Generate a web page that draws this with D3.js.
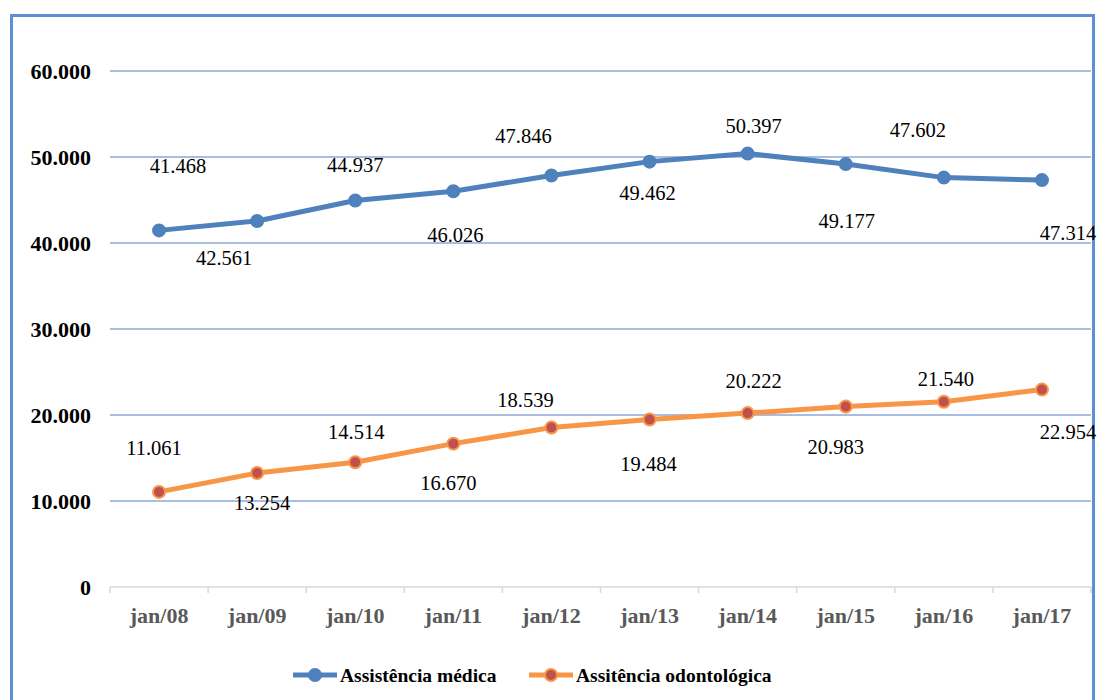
<!DOCTYPE html>
<html><head><meta charset="utf-8">
<script src="https://cdn.jsdelivr.net/npm/d3@7"></script>
<style>body{margin:0;background:#fff}svg{display:block}
text{font-family:"Liberation Serif","Times New Roman","DejaVu Serif",serif}</style>
</head><body>
<svg id="c" width="1106" height="700"></svg>
<script>
const categories = ["jan/08","jan/09","jan/10","jan/11","jan/12","jan/13","jan/14","jan/15","jan/16","jan/17"];
const medica = [41468,42561,44937,46026,47846,49462,50397,49177,47602,47314];
const odonto = [11061,13254,14514,16670,18539,19484,20222,20983,21540,22954];
const yTicks = [0,10000,20000,30000,40000,50000,60000];
const seriesNames = ["Assistência médica","Assitência odontológica"];
// label offsets (dx, dy) relative to each point, as placed in the original
const medicaLabelOffsets = [[19,-65],[-33,37],[0,-36],[2,44],[-28,-40],[-2,31],[6,-28],[1,57],[-26,-48],[26,53]];
const odontoLabelOffsets = [[-5,-44],[5,30],[1,-30],[-5,39],[-26,-28],[-1,44],[6,-32],[-10,40],[2,-23],[26,42]];

const FONT = '"Liberation Serif","Times New Roman","DejaVu Serif",serif';
const svg = d3.select("#c");
const fmt = v => v === 0 ? "0" : d3.format(",")(v).replace(/,/g, ".");

// outer border
svg.append("rect").attr("x",11.5).attr("y",15.5).attr("width",1082).attr("height",700)
  .attr("fill","none").attr("stroke","#5b8fd6").attr("stroke-width",3);

const L = 110, R = 1091, T = 71, B = 587;
const x = d3.scaleBand().domain(categories).range([L,R]);
const y = d3.scaleLinear().domain([0,60000]).range([B,T]);

// gridlines
svg.append("g").selectAll("line").data(yTicks.filter(d=>d>0)).join("line")
  .attr("x1",L).attr("x2",R).attr("y1",d=>y(d)).attr("y2",d=>y(d))
  .attr("stroke","#8aa8d6").attr("stroke-width",1.3);

// y axis labels
const yAxis = d3.axisLeft(y).tickValues(yTicks).tickFormat(fmt).tickSize(0).tickPadding(0);
const gy = svg.append("g").attr("transform",`translate(91,0)`).call(yAxis);
gy.attr("font-family",null);
gy.select(".domain").remove();
gy.selectAll("text").style("font-family",FONT).attr("font-weight","bold")
  .attr("font-size",22).attr("fill","#000").attr("dy","0.35em");

// x axis
const xAxis = d3.axisBottom(x).tickSize(0).tickPadding(0);
const gx = svg.append("g").attr("transform",`translate(0,${B})`).call(xAxis);
gx.attr("font-family",null);
gx.select(".domain").remove();
gx.selectAll("text").style("font-family",FONT).attr("font-weight","bold")
  .attr("font-size",22).attr("fill","#595959").attr("y",36).attr("dy",0);
svg.append("line").attr("x1",L).attr("x2",R).attr("y1",B).attr("y2",B)
  .attr("stroke","#d9d9d9").attr("stroke-width",1.5);
const bounds = categories.map(c=>x(c)).concat([R]);
svg.append("g").selectAll("line").data(bounds).join("line")
  .attr("x1",d=>d).attr("x2",d=>d).attr("y1",B).attr("y2",B+6)
  .attr("stroke","#d9d9d9").attr("stroke-width",1.5);

const cx = c => x(c) + x.bandwidth()/2;
const line = d3.line().x((d,i)=>cx(categories[i])).y(d=>y(d));

function drawSeries(vals, color, markFill, offsets){
  svg.append("path").datum(vals).attr("d",line).attr("fill","none")
    .attr("stroke",color).attr("stroke-width",5).attr("stroke-linejoin","round");
  svg.append("g").selectAll("circle").data(vals).join("circle")
    .attr("cx",(d,i)=>cx(categories[i])).attr("cy",d=>y(d)).attr("r",6)
    .attr("fill",markFill).attr("stroke",color).attr("stroke-width",2);
  svg.append("g").selectAll("text").data(vals).join("text")
    .attr("x",(d,i)=>cx(categories[i])+offsets[i][0])
    .attr("y",(d,i)=>y(d)+offsets[i][1])
    .attr("dy","0.35em").attr("text-anchor","middle")
    .style("font-family",FONT).attr("font-size",20.5).attr("fill","#000")
    .text(fmt);
}
drawSeries(medica,"#4f81bd","#4f81bd",medicaLabelOffsets);
drawSeries(odonto,"#f79646","#c0504d",odontoLabelOffsets);

// legend
const legend = [
  {name:seriesNames[0], color:"#4f81bd", fill:"#4f81bd", x:293},
  {name:seriesNames[1], color:"#f79646", fill:"#c0504d", x:529}
];
const lg = svg.append("g");
legend.forEach(l=>{
  lg.append("line").attr("x1",l.x).attr("x2",l.x+44).attr("y1",675).attr("y2",675)
    .attr("stroke",l.color).attr("stroke-width",5);
  lg.append("circle").attr("cx",l.x+22).attr("cy",675).attr("r",6)
    .attr("fill",l.fill).attr("stroke",l.color).attr("stroke-width",2);
  lg.append("text").attr("x",l.x+47).attr("y",675).attr("dy","0.35em")
    .style("font-family",FONT).attr("font-weight","bold").attr("font-size",19.5)
    .attr("fill","#000").text(l.name);
});
</script>
</body></html>
